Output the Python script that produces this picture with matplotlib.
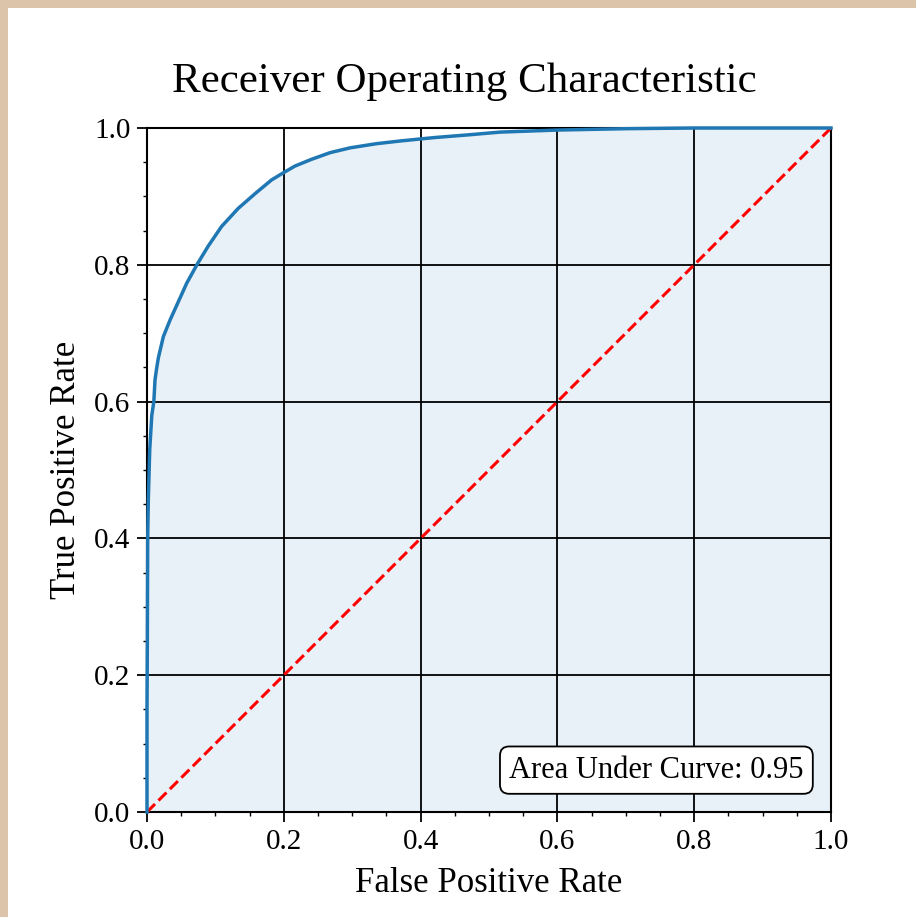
import matplotlib
matplotlib.use("Agg")
import matplotlib.pyplot as plt
from matplotlib.patches import Rectangle
from matplotlib.ticker import MultipleLocator

# ROC points
fpr = [0.0, 0.0, 0.0005, 0.001, 0.002, 0.004, 0.007, 0.010, 0.0117, 0.0140,
       0.0166, 0.0239, 0.0336, 0.0458, 0.0580, 0.0736, 0.0896, 0.109,
       0.1335, 0.158, 0.182, 0.198, 0.2164, 0.2400, 0.2675, 0.297, 0.335,
       0.370, 0.420, 0.470, 0.516, 0.600, 0.700, 0.800, 1.0]
tpr = [0.0, 0.15, 0.25, 0.40, 0.46, 0.53, 0.58, 0.60, 0.6316, 0.648,
       0.664, 0.695, 0.719, 0.746, 0.773, 0.8012, 0.8275, 0.856,
       0.8826, 0.904, 0.924, 0.9337, 0.9444, 0.954, 0.9639, 0.971, 0.977,
       0.981, 0.986, 0.990, 0.994, 0.997, 0.999, 1.0, 1.0]
auc_value = 0.95
chance = [0.0, 1.0]

plt.rcParams["font.family"] = ["Liberation Serif", "DejaVu Serif"]

fig = plt.figure(figsize=(9.16, 9.17), dpi=100)
fig.patch.set_facecolor("#dcc4aa")
# white sheet over the textured backdrop
fig.patches.append(Rectangle((8 / 916, 0), 1, 1 - 8 / 917, transform=fig.transFigure,
                             facecolor="white", edgecolor="none", zorder=-10))

ax = fig.add_axes([147 / 916, 1 - 812 / 917, 684 / 916, 684 / 917])
ax.set_facecolor("white")

ax.fill_between(fpr, tpr, 0, color="#1f77b4", alpha=0.1, linewidth=0, zorder=1)
ax.grid(True, which="major", color="black", linewidth=1.3, zorder=2)
ax.set_axisbelow(False)
ax.plot(chance, chance, color="red", linestyle="--", linewidth=2.2, zorder=3)
ax.plot(fpr, tpr, color="#1f77b4", linewidth=2.5, zorder=4, clip_on=False)

ax.set_xlim(0, 1)
ax.set_ylim(0, 1)
ax.xaxis.set_major_locator(MultipleLocator(0.2))
ax.yaxis.set_major_locator(MultipleLocator(0.2))
ax.xaxis.set_minor_locator(MultipleLocator(0.05))
ax.yaxis.set_minor_locator(MultipleLocator(0.05))
ax.tick_params(which="major", length=7, width=1.3, labelsize=21, pad=5)
ax.tick_params(which="minor", length=3, width=1.0)
for s in ax.spines.values():
    s.set_linewidth(1.5)

ax.set_xlabel("False Positive Rate", fontsize=25, labelpad=9)
ax.set_ylabel("True Positive Rate", fontsize=25, labelpad=8)
ax.set_title("Receiver Operating Characteristic", fontsize=31, pad=26, x=0.4635)

ax.text(0.96, 0.04, f"Area Under Curve: {auc_value:.2f}", transform=ax.transAxes,
        ha="right", va="bottom", fontsize=22, zorder=5,
        bbox=dict(boxstyle="round,pad=0.3", facecolor="white", edgecolor="black",
                  linewidth=1.3))

fig.savefig("out.png", dpi=100, facecolor=fig.get_facecolor())
